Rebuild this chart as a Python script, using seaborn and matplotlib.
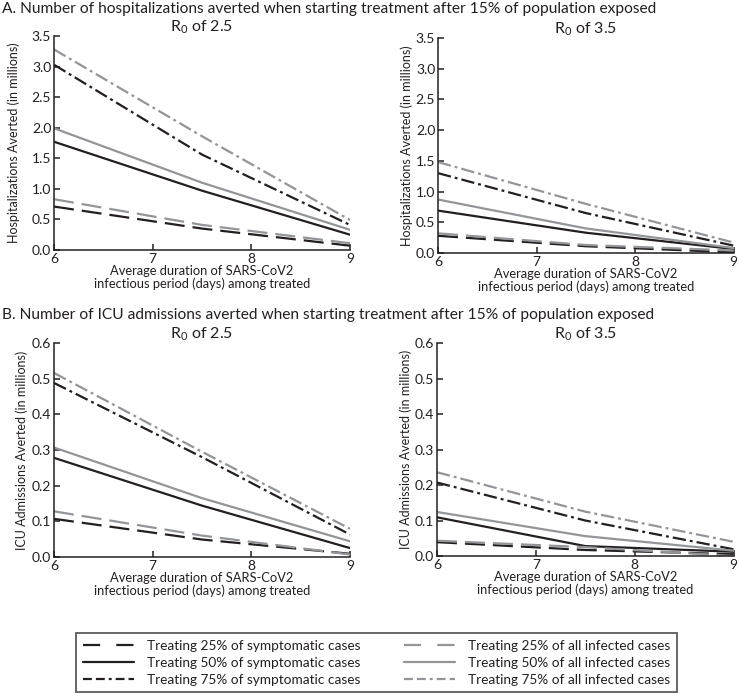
import matplotlib
matplotlib.use("Agg")
import matplotlib.pyplot as plt
from matplotlib.lines import Line2D
import pandas as pd
import seaborn as sns

sns.set_theme(style="ticks")
plt.rcParams["font.family"] = ["Lato", "DejaVu Sans"]
plt.rcParams["mathtext.fontset"] = "custom"
plt.rcParams["mathtext.rm"] = "Lato"

days = [6, 7.5, 9]
coverage = ["25%", "50%", "75%"]

# rows: treating 25%, 50%, 75%; columns: days 6, 7.5, 9 (millions)
hosp_r25_symptomatic = [[0.71, 0.35, 0.07], [1.77, 0.97, 0.25], [3.03, 1.56, 0.41]]
hosp_r25_all = [[0.83, 0.41, 0.11], [1.99, 1.10, 0.33], [3.28, 1.86, 0.49]]
hosp_r35_symptomatic = [[0.28, 0.11, 0.01], [0.69, 0.33, 0.065], [1.30, 0.65, 0.12]]
hosp_r35_all = [[0.32, 0.13, 0.04], [0.87, 0.40, 0.08], [1.48, 0.80, 0.17]]
icu_r25_symptomatic = [[0.107, 0.049, 0.009], [0.278, 0.144, 0.025], [0.488, 0.28, 0.063]]
icu_r25_all = [[0.128, 0.06, 0.007], [0.307, 0.165, 0.044], [0.516, 0.295, 0.079]]
icu_r35_symptomatic = [[0.039, 0.017, 0.005], [0.109, 0.028, 0.012], [0.207, 0.10, 0.019]]
icu_r35_all = [[0.043, 0.025, 0.0], [0.124, 0.056, 0.015], [0.236, 0.125, 0.04]]

BLACK = "#231f20"
GRAY = "#939598"
palette = {"symptomatic": BLACK, "all infected": GRAY}
dash_map = {"25%": (9, 3.6), "50%": "", "75%": (6, 1.8, 1.3, 1.8)}

x_label = "Average duration of SARS-CoV2\ninfectious period (days) among treated"


def panel_frame(sym, allinf):
    rows = []
    for group, values in (("symptomatic", sym), ("all infected", allinf)):
        for pct, series in zip(coverage, values):
            for d, v in zip(days, series):
                rows.append({"days": d, "averted": v, "group": group, "coverage": pct})
    return pd.DataFrame(rows)


def draw_panel(ax, sym, allinf, title, ylabel, ymax, ystep, ylabel_x):
    df = panel_frame(sym, allinf)
    sns.lineplot(data=df, x="days", y="averted", hue="group", style="coverage",
                 palette=palette, dashes=dash_map, linewidth=1.6, legend=False,
                 errorbar=None, ax=ax)
    ax.set_xlim(6, 9)
    ax.set_ylim(0, ymax)
    ax.set_xticks([6, 7, 8, 9])
    n = int(round(ymax / ystep))
    ax.set_yticks([round(i * ystep, 2) for i in range(n + 1)])
    ax.yaxis.set_major_formatter(matplotlib.ticker.FormatStrFormatter("%.1f"))
    ax.tick_params(direction="in", length=4.5, width=1.1, labelsize=10, pad=2,
                   color=BLACK, labelcolor=BLACK)
    for side in ("left", "bottom"):
        ax.spines[side].set_linewidth(1.1)
        ax.spines[side].set_color(BLACK)
    sns.despine(ax=ax)
    ax.set_title(title, fontsize=11.5, pad=0, color=BLACK)
    ax.set_xlabel(x_label, fontsize=9.3, labelpad=0, linespacing=1.1, color=BLACK)
    ax.set_ylabel(ylabel, fontsize=9, color=BLACK)
    ax.yaxis.set_label_coords(ylabel_x, 0.5)


fig = plt.figure(figsize=(7.39, 7.0), dpi=100)
ax1 = fig.add_axes([0.0731, 0.6429, 0.4005, 0.3057])
ax2 = fig.add_axes([0.5927, 0.6386, 0.3999, 0.3071])
ax3 = fig.add_axes([0.0731, 0.2043, 0.4005, 0.3057])
ax4 = fig.add_axes([0.5913, 0.2057, 0.4013, 0.3043])

hosp_label = "Hospitalizations Averted (in millions)"
icu_label = "ICU Admissions Averted (in millions)"
draw_panel(ax1, hosp_r25_symptomatic, hosp_r25_all, r"$\mathregular{R_0}$ of 2.5", hosp_label, 3.5, 0.5, -0.115)
draw_panel(ax2, hosp_r35_symptomatic, hosp_r35_all, r"$\mathregular{R_0}$ of 3.5", hosp_label, 3.5, 0.5, -0.085)
draw_panel(ax3, icu_r25_symptomatic, icu_r25_all, r"$\mathregular{R_0}$ of 2.5", icu_label, 0.6, 0.1, -0.088)
draw_panel(ax4, icu_r35_symptomatic, icu_r35_all, r"$\mathregular{R_0}$ of 3.5", icu_label, 0.6, 0.1, -0.085)

fig.text(0.003, 0.9814, "A. Number of hospitalizations averted when starting treatment after 15% of population exposed",
         fontsize=11.2, va="baseline", ha="left", color=BLACK)
fig.text(0.003, 0.5443, "B. Number of ICU admissions averted when starting treatment after 15% of population exposed",
         fontsize=11.2, va="baseline", ha="left", color=BLACK)

legend_dashes = {"25%": (0, (7.7, 7.3)), "50%": "-", "75%": (0, (4, 1.8, 4, 1.8, 1.3, 1.8))}
handles = []
labels = []
for color, text in ((BLACK, "symptomatic"), (GRAY, "all infected")):
    for pct in coverage:
        handles.append(Line2D([0], [0], color=color, linewidth=1.6, linestyle=legend_dashes[pct]))
        labels.append(f"Treating {pct} of {text} cases")

leg = fig.legend(handles, labels, ncol=2, loc="center", bbox_to_anchor=(0.51, 0.053),
                 fontsize=9.8, handlelength=3.7, handletextpad=1.0, columnspacing=3.2,
                 labelspacing=0.35, borderpad=0.5, fancybox=False, frameon=True)
leg.get_frame().set_edgecolor("#333333")
leg.get_frame().set_linewidth(1.3)
for t in leg.get_texts():
    t.set_color(BLACK)

fig.savefig("out.png", dpi=100)
